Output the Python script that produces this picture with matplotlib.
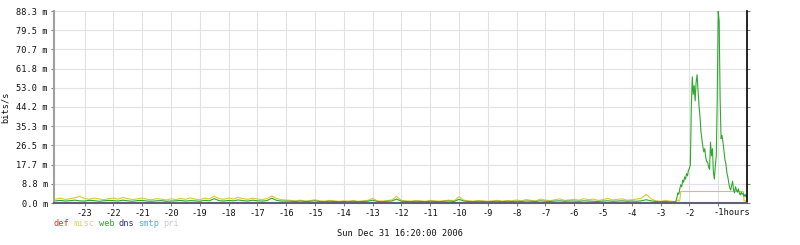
import numpy as np
import matplotlib
matplotlib.use("Agg")
import matplotlib.pyplot as plt

# ==========================================
# Data (bits/s, milli) - last 24 hours
# ==========================================

# quiet part: 10 min steps, -24h .. -2.67h
quiet_hours = np.linspace(-24, -2.6667, 129)
# busy part: 2 min steps, -2.5h .. 0h
busy_hours = np.linspace(-2.5, 0, 76)

misc_quiet = [
    1.8, 2.2, 1.6, 2.0, 2.4, 3.0, 2.1, 1.7, 2.3, 1.9, 1.5, 2.0,
    2.2, 1.8, 2.5, 2.0, 1.6, 1.9, 2.3, 1.7, 1.5, 2.0, 1.8, 1.4,
    1.9, 1.6, 2.1, 1.7, 2.4, 1.8, 1.5, 2.2, 1.9, 3.1, 2.0, 1.7,
    2.3, 1.8, 2.6, 2.0, 1.7, 2.2, 1.9, 1.6, 2.0, 3.2, 2.1, 1.5,
    1.4, 1.2, 1.0, 1.3, 0.9, 1.1, 1.5, 1.0, 0.9, 1.2, 1.0, 0.8,
    1.0, 0.9, 1.1, 0.8, 1.0, 1.2, 2.1, 1.0, 0.9, 1.1, 1.4, 3.0,
    1.2, 1.0, 0.9, 1.1, 1.0, 0.8, 1.2, 1.0, 0.9, 1.1, 1.3, 1.0,
    2.9, 1.3, 1.0, 0.9, 1.1, 1.0, 0.8, 1.0, 1.2, 0.9, 1.1, 1.0,
    1.4, 1.0, 1.6, 1.2, 1.0, 1.8, 1.3, 1.1, 1.5, 1.9, 1.2, 1.4,
    1.7, 1.3, 2.0, 1.5, 1.8, 1.2, 1.6, 2.1, 1.4, 1.7, 1.9, 1.3,
    1.5, 1.8, 2.2, 4.0, 2.0, 1.0, 0.8, 1.2, 0.9,
]

web_quiet = [
    1.0, 1.2, 0.9, 1.1, 1.3, 1.0, 0.9, 1.2, 1.1, 0.8, 1.0, 1.2,
    1.1, 0.9, 1.3, 1.0, 0.8, 1.1, 1.2, 0.9, 0.8, 1.0, 1.1, 0.8,
    0.9, 1.0, 1.2, 0.9, 1.1, 1.0, 0.8, 1.2, 1.0, 2.0, 1.1, 0.9,
    1.2, 1.0, 1.4, 1.1, 0.9, 1.3, 1.0, 0.9, 1.1, 2.2, 1.2, 0.9,
    0.9, 0.8, 0.7, 0.9, 0.7, 0.8, 1.0, 0.7, 0.6, 0.8, 0.7, 0.6,
    0.7, 0.6, 0.8, 0.6, 0.7, 0.8, 1.3, 0.7, 0.6, 0.8, 0.9, 1.8,
    0.8, 0.7, 0.6, 0.8, 0.7, 0.6, 0.8, 0.7, 0.6, 0.8, 0.9, 0.7,
    1.7, 0.9, 0.7, 0.6, 0.8, 0.7, 0.6, 0.7, 0.8, 0.6, 0.8, 0.7,
    0.8, 0.7, 0.9, 0.8, 0.7, 1.0, 0.8, 0.7, 0.9, 1.0, 0.8, 0.9,
    0.9, 0.8, 1.0, 0.9, 0.8, 0.7, 0.9, 1.0, 0.8, 0.9, 1.0, 0.8,
    0.9, 0.8, 1.0, 1.5, 1.0, 0.7, 0.6, 0.7, 0.5,
]

misc_busy = [0.6, 0.8, 1.0, 1.4, 0.9, 1.2] + [5.3] * 66 + [0.9, 1.1, 0.7, 0.9]

web_busy = [
    0.6, 0.8, 2.5, 4.7, 4.0, 6.5, 8.4, 7.5, 10.5, 9.5,
    12.0, 11.0, 13.5, 12.5, 15.0, 16.0, 17.5, 44.0, 58.0, 50.0,
    54.0, 47.0, 55.5, 59.0, 52.0, 45.0, 40.0, 33.0, 29.6, 26.0,
    23.5, 25.0, 21.0, 19.0, 18.8, 16.5, 15.5, 28.0, 21.7, 25.0,
    14.0, 11.0, 17.0, 21.7, 48.0, 88.3, 83.7, 48.0, 29.6, 31.0,
    28.0, 24.0, 20.0, 18.0, 14.0, 12.0, 9.3, 7.0, 6.0, 8.0,
    10.0, 6.0, 4.7, 7.5, 6.0, 5.0, 6.5, 4.5, 3.7, 5.0,
    4.0, 4.5, 3.0, 4.0, 2.8, 3.5,
]

y_ticks = [0.0, 8.8, 17.7, 26.5, 35.3, 44.2, 53.0, 61.8, 70.7, 79.5, 88.3]
x_ticks = list(range(-23, 0))

legend_names = ["def", "misc", "web", "dns", "smtp", "pri"]
legend_colors = ["#e03030", "#d8d860", "#30a830", "#303090", "#50b8d8", "#c8c8e8"]

hours = np.concatenate([quiet_hours, busy_hours])
misc = np.array(misc_quiet + misc_busy)
web = np.array(web_quiet + web_busy)

# ==========================================
# Plot
# ==========================================

fs = 6.2
mono = "DejaVu Sans Mono"

fig = plt.figure(figsize=(8, 2.45), dpi=100)
ax = fig.add_axes([54 / 800, 1 - 203 / 245, (747 - 54) / 800, (203 - 11) / 245])

ax.plot(hours, misc, color="#d8c838", lw=0.8)
ax.plot(hours, web, color="#30a830", lw=0.8)

ax.set_xlim(-24.06, 0)
ax.set_ylim(0, 88.3)

ax.set_yticks(y_ticks)
ax.set_yticklabels([f"{v:.1f} m" for v in y_ticks], fontsize=fs, family=mono)
ax.set_xticks(x_ticks)
ax.set_xticklabels([str(h) if h != -1 else "" for h in x_ticks],
                   fontsize=fs, family=mono)

ax.annotate("-1hours", xy=(-1, 0), xycoords=("data", "axes fraction"),
            xytext=(-0.602 * fs, -3.5), textcoords="offset points",
            ha="left", va="top", fontsize=fs, family=mono, color="#101010")

ax.grid(True, color="#e2e2e2", lw=0.8)
ax.set_axisbelow(True)

ax.tick_params(axis="both", length=2.5, width=0.8, pad=2, colors="#808080",
               labelcolor="#101010")
ax.tick_params(axis="y", right=True, labelright=False)

ax.spines["top"].set_visible(False)
ax.spines["left"].set_color("#a0a0a0")
ax.spines["left"].set_linewidth(1.5)
ax.spines["bottom"].set_color("#606078")
ax.spines["bottom"].set_linewidth(1.5)
ax.spines["right"].set_color("black")
ax.spines["right"].set_linewidth(1.2)

fig.text(5 / 800, 1 - 107 / 245, "bits/s", rotation=90, ha="center",
         va="center", fontsize=fs, family=mono, color="#101010")

# legend as coloured words
x_px = 54
for name, col in zip(legend_names, legend_colors):
    fig.text(x_px / 800, 1 - 223 / 245, name, ha="left", va="center",
             fontsize=fs, family=mono, color=col)
    x_px += (len(name) + 1) * 4.95

fig.text(400 / 800, 1 - 233 / 245, "Sun Dec 31 16:20:00 2006", ha="center",
         va="center", fontsize=fs, family=mono, color="#101010")

plt.savefig("out.png", dpi=100)
